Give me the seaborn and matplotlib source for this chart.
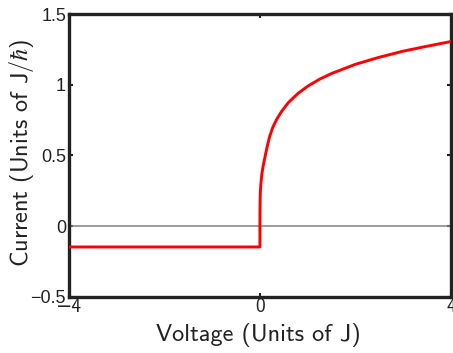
import matplotlib
matplotlib.use("Agg")
import matplotlib.pyplot as plt
import seaborn as sns
import pandas as pd

# Current-voltage characteristic
voltage = [-4.0, 0.0, 0.0, 0.002, 0.005, 0.01, 0.02, 0.04, 0.07, 0.1, 0.15, 0.2,
           0.27, 0.35, 0.45, 0.6, 0.8, 1.0, 1.25, 1.5, 2.0, 2.5, 3.0, 3.5, 4.0]
current = [-0.147, -0.147, 0.0, 0.12, 0.2, 0.25, 0.3, 0.37, 0.43, 0.48, 0.56, 0.63,
           0.70, 0.755, 0.81, 0.876, 0.94, 0.99, 1.04, 1.08, 1.145, 1.195, 1.238,
           1.273, 1.306]

x_ticks = [-4, 0, 4]
y_ticks = [-0.5, 0, 0.5, 1, 1.5]
y_tick_labels = ["\u22120.5", "0", "0.5", "1", "1.5"]
x_tick_labels = ["\u22124", "0", "4"]

sns.set_style("white")
plt.rcParams["mathtext.fontset"] = "cm"

df = pd.DataFrame({"Voltage": voltage, "Current": current})

fig = plt.figure(figsize=(4.53, 3.53), dpi=100)
ax = fig.add_axes([0.152, 0.159, 0.8436, 0.801])

ax.axhline(0, color="#808080", lw=1.1, zorder=1)
sns.lineplot(data=df, x="Voltage", y="Current", sort=False, estimator=None,
             color="#ff0000", lw=2.1, ax=ax, zorder=3)

ax.set_xlim(-4, 4)
ax.set_ylim(-0.5, 1.5)
ax.set_xticks(x_ticks)
ax.set_xticklabels(x_tick_labels, family=["cmss10", "DejaVu Sans"], fontsize=14)
ax.set_yticks(y_ticks)
ax.set_yticklabels(y_tick_labels, family=["Liberation Sans", "DejaVu Sans"], fontsize=13)

ax.tick_params(direction="in", length=3, width=1.5, top=True, right=True,
               bottom=True, left=True, colors="#222222", labelcolor="#222222")
ax.tick_params(axis="x", pad=1)
ax.tick_params(axis="y", pad=2)
for s in ax.spines.values():
    s.set_visible(True)
    s.set_linewidth(2.4)
    s.set_color("#222222")

ax.set_xlabel("Voltage (Units of J)", family=["cmss10", "DejaVu Sans"],
              fontsize=17.5, color="#222222", va="center")
ax.set_ylabel("Current (Units of J$/\\hbar$)", family=["cmss10", "DejaVu Sans"],
              fontsize=17.5, color="#222222", va="center")
ax.xaxis.set_label_coords(0.495, -0.134)
ax.yaxis.set_label_coords(-0.123, 0.509)

fig.savefig("out.png", dpi=100)
